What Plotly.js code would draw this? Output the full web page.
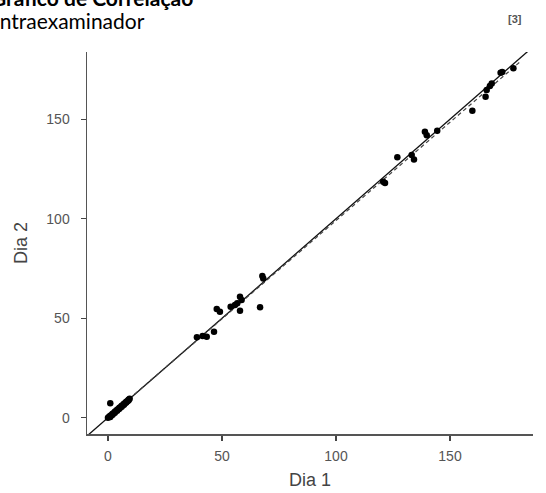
<!DOCTYPE html>
<html><head><meta charset="utf-8">
<script src="https://cdn.plot.ly/plotly-3.0.1.min.js"></script>
<style>html,body{margin:0;padding:0;background:#fff;}#chart{width:546px;height:493px;}</style>
</head><body><div id="chart"></div>
<script>
var dia1 = [0,0.5,1,1,1.5,2,2,2.5,3,3,3.5,4,4,4.5,5,5,5.5,6,6,6.5,7,7,7.5,8,8,8.5,9,9,9.5,1,
  39,41.5,43.3,46.5,47.7,49.1,53.8,55.7,56.7,57.9,58.6,57.9,66.7,67.7,68.1,
  120.7,121.5,126.9,133.2,134.2,139,139.8,144.4,159.8,165.6,166.1,167.5,168.3,172.2,172.9,177.8];
var dia2 = [0,0.5,1,0.3,1.2,2,1.5,2.2,3,2.5,3.3,4,3.5,4.2,5,4.5,5.3,6,5.5,6.3,7,6.5,7.3,8,7.6,8.3,9,8.7,9.5,7.2,
  40.4,41,40.7,43.2,54.6,53.3,55.8,56.6,57.5,60.8,59.1,53.8,55.5,71.2,70,
  118.6,118,130.9,132,129.8,143.7,142,144.2,154.3,161.3,164.7,166.7,168,173.4,173.7,175.6];
var identityX = [-9.2, 184.5];
var regX = [0, 181];
var regSlope = 0.988, regIntercept = 0.3;
var regY = regX.map(function(v){return regSlope*v + regIntercept;});
var xTicks = [0,50,100,150], yTicks = [0,50,100,150];

var L = 87, R = 13, T = 52, B = 59, W = 546, H = 493;
var pw = W - L - R, ph = H - T - B;
function px(x){return (x - L)/pw;}
function py(y){return (H - B - y)/ph;}

var traces = [
  {x: identityX, y: identityX, mode:'lines', line:{color:'#111', width:1.3}, hoverinfo:'skip'},
  {x: regX, y: regY, mode:'lines', line:{color:'#444', width:1.2, dash:'4px,3px'}, hoverinfo:'skip'},
  {x: dia1, y: dia2, mode:'markers', marker:{color:'#000', size:6.5}}
];
var sans = "'Liberation Sans', Arial, sans-serif";
var axisFont = {family:sans, size:14, color:'#555'};
var layout = {
  width: W, height: H, showlegend:false,
  paper_bgcolor:'#fff', plot_bgcolor:'#fff',
  margin:{l:L, r:R, t:T, b:B, pad:0},
  xaxis:{range:[-9.2,186.4], tickvals:xTicks, ticks:'outside', ticklen:5, tickwidth:1.3, tickcolor:'#444',
    showline:true, linecolor:'#555', linewidth:1.5, showgrid:false, zeroline:false, tickfont:axisFont,
    ticklabelstandoff:4,
    title:{text:'Dia 1', font:{family:sans, size:18, color:'#444'}, standoff:10}},
  yaxis:{range:[-8.2,183.8], tickvals:yTicks, ticks:'outside', ticklen:5, tickwidth:1.3, tickcolor:'#444',
    showline:true, linecolor:'#555', linewidth:1.5, showgrid:false, zeroline:false, tickfont:axisFont,
    ticklabelstandoff:8,
    title:{text:'Dia 2', font:{family:sans, size:18, color:'#444'}, standoff:14}},
  annotations:[
    {text:'<b>Gráfico de Correlação</b>', xref:'paper', yref:'paper', x:px(-10), y:py(11), xanchor:'left', yanchor:'bottom',
      showarrow:false, font:{family:'Lato, sans-serif', size:21, color:'#000'}, borderpad:0},
    {text:'Intraexaminador', xref:'paper', yref:'paper', x:px(-7), y:py(34), xanchor:'left', yanchor:'bottom',
      showarrow:false, font:{family:'Lato, sans-serif', size:21, color:'#000'}, borderpad:0},
    {text:'<b>[3]</b>', xref:'paper', yref:'paper', x:px(523), y:py(26), xanchor:'right', yanchor:'bottom',
      showarrow:false, font:{family:"'Liberation Sans', sans-serif", size:11, color:'#555'}, borderpad:0}
  ]
};
Plotly.newPlot('chart', traces, layout, {displayModeBar:false, staticPlot:true});
</script></body></html>
